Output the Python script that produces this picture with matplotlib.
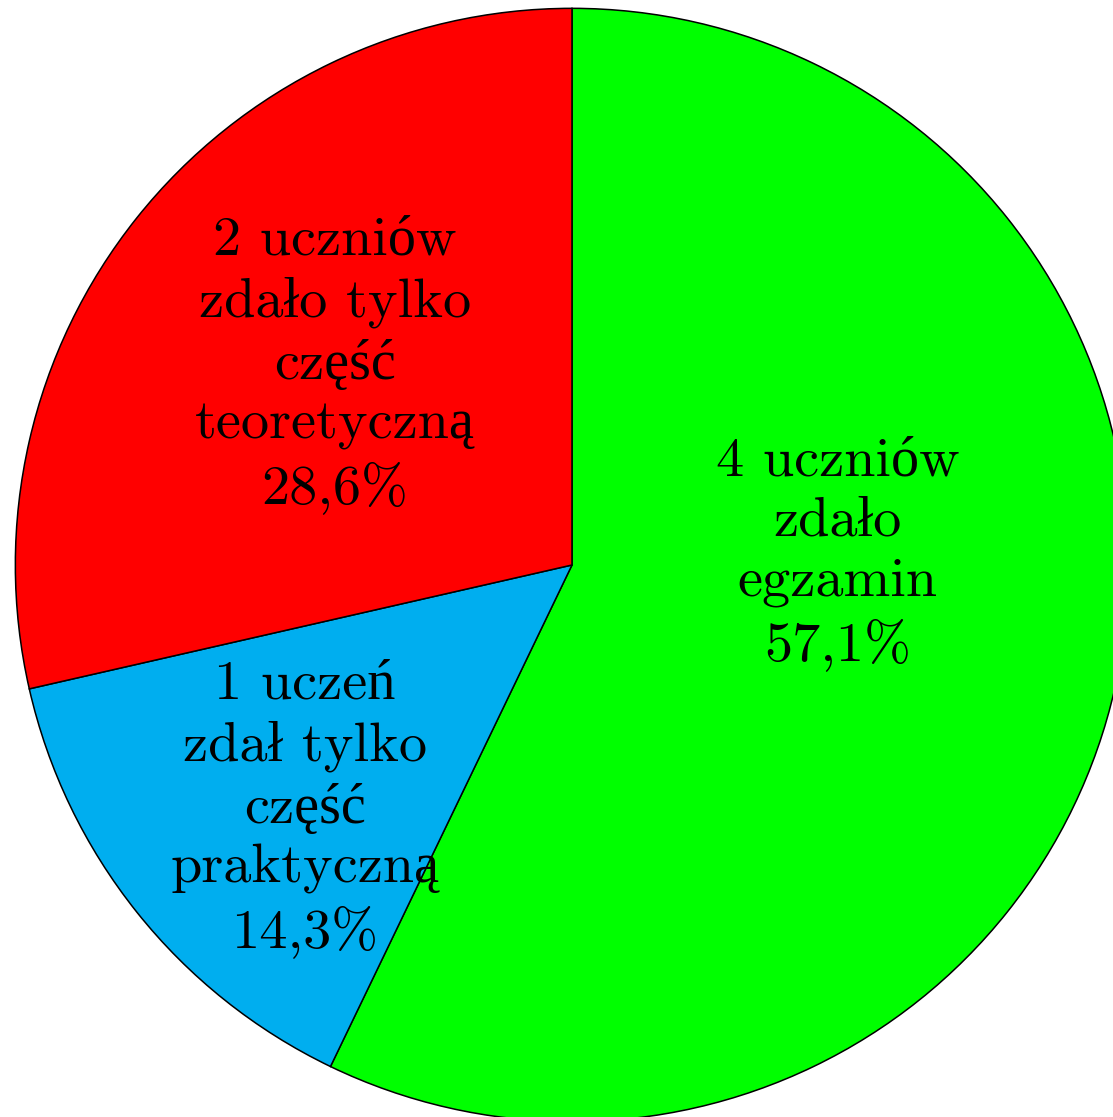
import matplotlib
matplotlib.use("Agg")
import matplotlib.pyplot as plt

# slices, clockwise from the top
counts = [4, 1, 2]
colors = ["#00FF00", "#00AEEF", "#FF0000"]
labels = [
    "4 uczniów\nzdało\negzamin",
    "1 uczeń\nzdał tylko\nczęść\npraktyczną",
    "2 uczniów\nzdało tylko\nczęść\nteoretyczną",
]

plt.rcParams["font.family"] = ["cmr10", "Liberation Serif", "DejaVu Serif"]

fig = plt.figure(figsize=(11.13, 11.17), dpi=100)
ax = fig.add_axes([0, 0, 1, 1])

wedges, _ = ax.pie(
    counts,
    colors=colors,
    startangle=90,
    counterclock=False,
    radius=1.003,
    wedgeprops=dict(edgecolor="black", linewidth=1.1),
)

# label centres (data units, pie radius = 1)
label_pos = [(0.479, 0.020), (-0.481, -0.440), (-0.427, 0.360)]
total = sum(counts)
for lab, n, (x, y) in zip(labels, counts, label_pos):
    pct = f"{100 * n / total:.1f}%".replace(".", ",")
    ax.text(x, y, lab + "\n" + pct, ha="center", va="center",
            fontsize=40.5, linespacing=1.27)

ax.set_xlim(-572 / 555, (1113 - 572) / 555)
ax.set_ylim(-(1117 - 565) / 555, 565 / 555)
ax.set_aspect("auto")
ax.axis("off")

fig.savefig("out.png", dpi=100)
